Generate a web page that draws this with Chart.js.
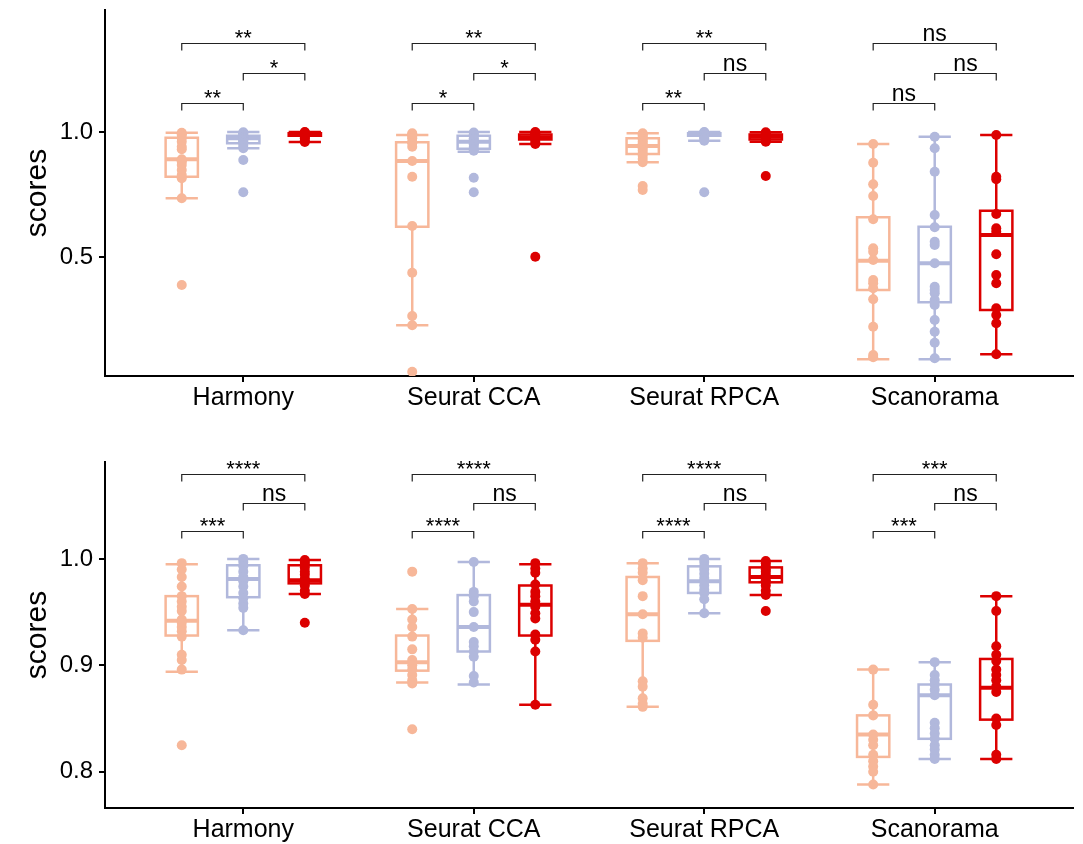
<!DOCTYPE html>
<html>
<head>
<meta charset="utf-8">
<script src="https://cdn.jsdelivr.net/npm/chart.js@4.4.1/dist/chart.umd.min.js"></script>
<style>
  body { margin: 0; background: #fff; }
  .panel { position: absolute; left: 0; width: 1083px; height: 422px; }
</style>
</head>
<body>
<div class="panel" style="top:0"><canvas id="chartTop" width="1083" height="422"></canvas></div>
<div class="panel" style="top:422px"><canvas id="chartBottom" width="1083" height="422"></canvas></div>
<script>
// ── Data ──────────────────────────────────────────────────────────────────────
const methods = ['Harmony', 'Seurat CCA', 'Seurat RPCA', 'Scanorama'];
const pairs = [[0, 1], [1, 2], [0, 2]];

// top panel: points per method, one array per series
const topSalmon = [
    [0.997, 0.992, 0.988, 0.975, 0.961, 0.941, 0.931, 0.891, 0.885, 0.881, 0.868, 0.848, 0.828, 0.815, 0.735, 0.388],
    [0.995, 0.99, 0.981, 0.975, 0.961, 0.955, 0.941, 0.884, 0.821, 0.624, 0.437, 0.264, 0.227, 0.041],
    [0.995, 0.99, 0.985, 0.978, 0.97, 0.962, 0.955, 0.945, 0.935, 0.925, 0.915, 0.905, 0.892, 0.879, 0.784, 0.768],
    [0.952, 0.877, 0.791, 0.744, 0.651, 0.535, 0.521, 0.488, 0.408, 0.395, 0.375, 0.331, 0.221, 0.108, 0.099]
];
const topLavender = [
    [0.999, 0.995, 0.99, 0.985, 0.98, 0.978, 0.975, 0.97, 0.965, 0.96, 0.955, 0.945, 0.935, 0.888, 0.759],
    [0.998, 0.99, 0.985, 0.975, 0.97, 0.96, 0.955, 0.95, 0.94, 0.93, 0.925, 0.817, 0.759],
    [1.0, 0.998, 0.995, 0.993, 0.99, 0.99, 0.988, 0.985, 0.98, 0.975, 0.965, 0.759],
    [0.981, 0.935, 0.841, 0.668, 0.619, 0.561, 0.548, 0.475, 0.381, 0.368, 0.355, 0.328, 0.308, 0.248, 0.201, 0.157, 0.095]
];
const topRed = [
    [1.0, 0.998, 0.995, 0.993, 0.99, 0.99, 0.988, 0.985, 0.98, 0.975, 0.965, 0.96],
    [1.0, 0.997, 0.993, 0.99, 0.985, 0.98, 0.978, 0.975, 0.97, 0.96, 0.952, 0.501],
    [0.999, 0.995, 0.99, 0.987, 0.983, 0.981, 0.978, 0.975, 0.97, 0.965, 0.961, 0.824],
    [0.988, 0.821, 0.811, 0.672, 0.615, 0.601, 0.511, 0.428, 0.395, 0.295, 0.268, 0.235, 0.111]
];
// box stats, rows = series (salmon, lavender, red), cols = methods
const topLow = [[0.735, 0.227, 0.879, 0.091], [0.935, 0.921, 0.965, 0.091], [0.96, 0.952, 0.961, 0.111]];
const topQ1  = [[0.821, 0.621, 0.912, 0.368], [0.955, 0.933, 0.985, 0.319], [0.985, 0.97, 0.97, 0.288]];
const topMed = [[0.891, 0.884, 0.944, 0.485], [0.975, 0.961, 0.99, 0.475], [0.99, 0.979, 0.981, 0.588]];
const topQ3  = [[0.977, 0.959, 0.975, 0.659], [0.985, 0.985, 0.995, 0.621], [0.995, 0.99, 0.99, 0.685]];
const topHigh = [[0.997, 0.988, 0.995, 0.952], [1.0, 1.0, 1.0, 0.981], [1.0, 1.0, 0.999, 0.988]];
const topSig = [['**', '*', '**'], ['*', '*', '**'], ['**', 'ns', '**'], ['ns', 'ns', 'ns']];
const topLevels = [1.115, 1.237, 1.355];
const topTicks = [0.5, 1.0];

// bottom panel
const botSalmon = [
    [0.996, 0.990, 0.983, 0.974, 0.965, 0.960, 0.955, 0.951, 0.943, 0.940, 0.936, 0.932, 0.927, 0.910, 0.905, 0.896, 0.825],
    [0.988, 0.953, 0.943, 0.936, 0.927, 0.915, 0.905, 0.900, 0.896, 0.891, 0.886, 0.883, 0.840],
    [0.996, 0.991, 0.987, 0.980, 0.965, 0.948, 0.930, 0.926, 0.885, 0.880, 0.869, 0.864, 0.861],
    [0.896, 0.863, 0.853, 0.835, 0.830, 0.825, 0.816, 0.810, 0.805, 0.800, 0.788]
];
const botLavender = [
    [1.0, 0.997, 0.993, 0.988, 0.983, 0.979, 0.974, 0.968, 0.963, 0.958, 0.954, 0.933],
    [0.997, 0.969, 0.965, 0.960, 0.950, 0.936, 0.922, 0.918, 0.913, 0.908, 0.890, 0.884],
    [1.0, 0.997, 0.993, 0.99, 0.986, 0.982, 0.979, 0.975, 0.971, 0.968, 0.962, 0.949],
    [0.903, 0.891, 0.886, 0.882, 0.877, 0.872, 0.846, 0.841, 0.836, 0.831, 0.825, 0.821, 0.816, 0.812]
];
const botRed = [
    [0.999, 0.997, 0.995, 0.992, 0.988, 0.985, 0.981, 0.98, 0.978, 0.975, 0.97, 0.967, 0.94],
    [0.996, 0.991, 0.987, 0.976, 0.969, 0.965, 0.960, 0.955, 0.949, 0.944, 0.929, 0.924, 0.913, 0.863],
    [0.998, 0.996, 0.993, 0.99, 0.988, 0.985, 0.983, 0.98, 0.978, 0.975, 0.97, 0.966, 0.951],
    [0.965, 0.951, 0.918, 0.910, 0.904, 0.896, 0.891, 0.886, 0.880, 0.875, 0.850, 0.844, 0.816, 0.812]
];
const botLow = [[0.894, 0.884, 0.861, 0.788], [0.933, 0.882, 0.949, 0.812], [0.967, 0.863, 0.966, 0.812]];
const botQ1  = [[0.928, 0.895, 0.923, 0.814], [0.964, 0.913, 0.968, 0.831], [0.977, 0.928, 0.978, 0.849]];
const botMed = [[0.942, 0.903, 0.948, 0.835], [0.981, 0.936, 0.979, 0.872], [0.980, 0.957, 0.983, 0.879]];
const botQ3  = [[0.965, 0.928, 0.983, 0.853], [0.994, 0.966, 0.993, 0.882], [0.994, 0.975, 0.992, 0.906]];
const botHigh = [[0.995, 0.953, 0.996, 0.896], [1.0, 0.997, 1.0, 0.903], [0.999, 0.995, 0.998, 0.965]];
const botSig = [['***', 'ns', '****'], ['****', 'ns', '****'], ['****', 'ns', '****'], ['***', 'ns', '***']];
const botLevels = [1.0266, 1.0529, 1.0798];
const botTicks = [0.8, 0.9, 1.0];

// ── Style ─────────────────────────────────────────────────────────────────────
const COLORS = ['#F7B799', '#B1B8DC', '#DC0000'];
const OFFSETS = [-0.267, 0, 0.267];
const BOX_HALF = 0.07;
const FONT = '"Liberation Sans", Arial, Helvetica, sans-serif';

function line(ctx, x0, y0, x1, y1) {
    ctx.beginPath();
    ctx.moveTo(x0, y0);
    ctx.lineTo(x1, y1);
    ctx.stroke();
}

function makePanel(canvasId, series, stats, sig, levels, ticks, yMin, yMax, padTop, xHeight) {
    const datasets = series.map((groups, s) => ({
        data: groups.flatMap((vals, g) => vals.map(v => ({ x: g + 1 + OFFSETS[s], y: v }))),
        backgroundColor: COLORS[s],
        borderWidth: 0,
        pointRadius: 5,
        pointHoverRadius: 5
    }));

    // boxes + whiskers, drawn under the points
    const boxes = {
        id: 'boxes',
        beforeDatasetsDraw(chart) {
            const { ctx, scales: { x, y } } = chart;
            ctx.save();
            stats.low.forEach((row, s) => row.forEach((lo, g) => {
                const cx = g + 1 + OFFSETS[s];
                const x0 = x.getPixelForValue(cx - BOX_HALF);
                const x1 = x.getPixelForValue(cx + BOX_HALF);
                const xm = x.getPixelForValue(cx);
                const yLo = y.getPixelForValue(lo);
                const yQ1 = y.getPixelForValue(stats.q1[s][g]);
                const yMed = y.getPixelForValue(stats.med[s][g]);
                const yQ3 = y.getPixelForValue(stats.q3[s][g]);
                const yHi = y.getPixelForValue(stats.high[s][g]);
                ctx.strokeStyle = COLORS[s];
                ctx.lineWidth = 2.5;
                line(ctx, xm, yHi, xm, yQ3);
                line(ctx, xm, yQ1, xm, yLo);
                line(ctx, x0, yHi, x1, yHi);
                line(ctx, x0, yLo, x1, yLo);
                ctx.strokeRect(x0, yQ3, x1 - x0, yQ1 - yQ3);
                ctx.lineWidth = 4;
                line(ctx, x0, yMed, x1, yMed);
            }));
            ctx.restore();
        }
    };

    // significance brackets
    const brackets = {
        id: 'brackets',
        afterDatasetsDraw(chart) {
            const { ctx, scales: { x, y } } = chart;
            ctx.save();
            ctx.strokeStyle = '#222';
            ctx.fillStyle = '#000';
            ctx.lineWidth = 1.2;
            ctx.textAlign = 'center';
            ctx.textBaseline = 'alphabetic';
            sig.forEach((labels, g) => pairs.forEach(([a, b], k) => {
                const xa = x.getPixelForValue(g + 1 + OFFSETS[a]);
                const xb = x.getPixelForValue(g + 1 + OFFSETS[b]);
                const yy = Math.round(y.getPixelForValue(levels[k])) + 0.5;
                ctx.beginPath();
                ctx.moveTo(xa, yy + 7);
                ctx.lineTo(xa, yy);
                ctx.lineTo(xb, yy);
                ctx.lineTo(xb, yy + 7);
                ctx.stroke();
                const label = labels[k];
                if (label === 'ns') {
                    ctx.font = '23px ' + FONT;
                    ctx.fillText(label, (xa + xb) / 2, yy - 2.5);
                } else {
                    ctx.font = '22px ' + FONT;
                    ctx.fillText(label, (xa + xb) / 2, yy + 1.5);
                }
            }));
            ctx.restore();
        }
    };

    return new Chart(document.getElementById(canvasId), {
        type: 'scatter',
        data: { datasets },
        plugins: [boxes, brackets],
        options: {
            responsive: false,
            animation: false,
            events: [],
            layout: { padding: { top: padTop, right: 10, left: 0, bottom: 0 } },
            plugins: { legend: { display: false }, tooltip: { enabled: false } },
            scales: {
                x: {
                    type: 'linear',
                    min: 0.4,
                    max: 4.6,
                    afterBuildTicks: scale => { scale.ticks = methods.map((m, i) => ({ value: i + 1 })); },
                    afterFit: scale => {
                        scale.height = xHeight;
                        scale.paddingLeft = 0;
                        scale.paddingRight = 0;
                    },
                    ticks: {
                        callback: v => methods[v - 1],
                        color: '#000',
                        font: { family: FONT, size: 25 },
                        padding: 1,
                        maxRotation: 0
                    },
                    grid: { drawOnChartArea: false, drawTicks: true, tickLength: 6, color: '#000', lineWidth: 2 },
                    border: { display: true, color: '#000', width: 2 }
                },
                y: {
                    min: yMin,
                    max: yMax,
                    afterBuildTicks: scale => { scale.ticks = ticks.map(v => ({ value: v })); },
                    afterFit: scale => {
                        scale.width = 105;
                        scale.paddingTop = 0;
                        scale.paddingBottom = 0;
                    },
                    ticks: {
                        callback: v => v.toFixed(1),
                        color: '#000',
                        font: { family: FONT, size: 24 },
                        padding: 6
                    },
                    title: {
                        display: true,
                        text: 'scores',
                        color: '#000',
                        font: { family: FONT, size: 30 },
                        padding: { top: 20, bottom: 0 }
                    },
                    grid: { drawOnChartArea: false, drawTicks: true, tickLength: 6, color: '#000', lineWidth: 2 },
                    border: { display: true, color: '#000', width: 2 }
                }
            }
        }
    });
}

makePanel('chartTop', [topSalmon, topLavender, topRed],
    { low: topLow, q1: topQ1, med: topMed, q3: topQ3, high: topHigh },
    topSig, topLevels, topTicks, 0.024, 1.488, 10, 46);

makePanel('chartBottom', [botSalmon, botLavender, botRed],
    { low: botLow, q1: botQ1, med: botMed, q3: botQ3, high: botHigh },
    botSig, botLevels, botTicks, 0.766, 1.091, 40, 36);
</script>
</body>
</html>
